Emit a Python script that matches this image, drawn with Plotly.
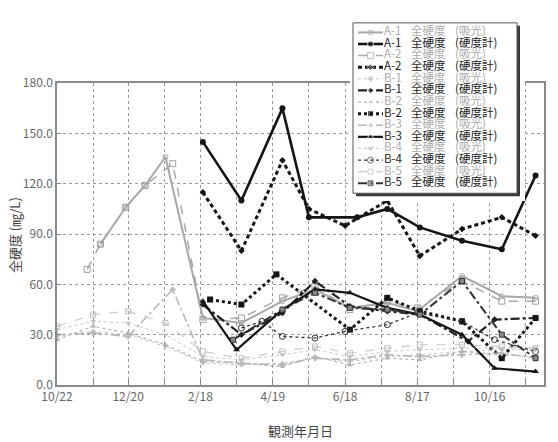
import plotly.graph_objects as go

# ---------------- data ----------------
A1_ABS_DATES = ["2010-11-27", "2010-12-18", "2011-01-03", "2011-01-20", "2011-02-20", "2011-03-24", "2011-04-27",
                "2011-05-24", "2011-06-22", "2011-07-23", "2011-08-17", "2011-09-23", "2011-10-26", "2011-11-23"]
A1_ABS = [84, 106, 119, 136, 40, 37, 50, 57, 46, 49, 44, 65, 53, 52]

A2_ABS_DATES = ["2010-11-16", "2010-11-27", "2010-12-18", "2011-01-03", "2011-01-26", "2011-02-20", "2011-03-24",
                "2011-04-27", "2011-05-24", "2011-06-22", "2011-07-23", "2011-08-17", "2011-09-23", "2011-10-26",
                "2011-11-23"]
A2_ABS = [69, 84, 106, 119, 132, 39, 40, 52, 59, 45, 50, 46, 62, 50, 50]

A1_MET_DATES = ["2011-02-20", "2011-03-24", "2011-04-27", "2011-05-19", "2011-06-28", "2011-07-23", "2011-08-19",
                "2011-09-23", "2011-10-26", "2011-11-23"]
A1_MET = [145, 110, 165, 100, 100, 105, 94, 86, 81, 125]

A2_MET_DATES = ["2011-02-20", "2011-03-24", "2011-04-27", "2011-05-19", "2011-06-18", "2011-07-23", "2011-08-19",
                "2011-09-23", "2011-10-26", "2011-11-23"]
A2_MET = [115, 80, 134, 105, 95, 110, 77, 93, 100, 89]

B_ABS_DATES = ["2010-10-22", "2010-11-21", "2010-12-20", "2011-01-20", "2011-02-20", "2011-03-24", "2011-04-27",
               "2011-05-24", "2011-06-22", "2011-07-23", "2011-08-19", "2011-09-23", "2011-10-26", "2011-11-23"]
B3_ABS_DATES = ["2010-10-22", "2010-11-21", "2010-12-20", "2011-01-26", "2011-02-20", "2011-03-24", "2011-04-27",
                "2011-05-24", "2011-06-22", "2011-07-23", "2011-08-19", "2011-09-23", "2011-10-26", "2011-11-23"]
B1_ABS = [29, 32, 30, 23, 13, 12, 13, 16, 14, 17, 18, 20, 21, 21]
B2_ABS = [27, 35, 31, 24, 14, 13, 11, 17, 12, 16, 15, 20, 18, 17]
B3_ABS = [30, 31, 29, 57, 15, 13, 12, 16, 15, 18, 17, 18, 19, 16]
B4_ABS = [33, 38, 37, 30, 17, 15, 18, 21, 17, 20, 21, 22, 22, 22]
B5_ABS = [35, 42, 44, 37, 20, 16, 20, 23, 19, 22, 24, 24, 23, 22]

B1_MET_DATES = ["2011-02-20", "2011-03-24", "2011-04-27", "2011-05-24", "2011-06-22", "2011-07-23", "2011-08-19",
                "2011-09-28", "2011-10-20", "2011-11-23"]
B1_MET = [48, 30, 43, 62, 47, 44, 42, 26, 39, 40]

B2_MET_DATES = ["2011-02-26", "2011-03-24", "2011-04-22", "2011-06-22", "2011-07-23", "2011-08-19", "2011-09-23",
                "2011-10-26", "2011-11-23"]
B2_MET = [51, 48, 66, 33, 52, 44, 38, 16, 40]

B3_MET_DATES = ["2011-02-20", "2011-03-20", "2011-04-27", "2011-05-24", "2011-06-22", "2011-07-23", "2011-08-19",
                "2011-09-23", "2011-10-20", "2011-11-23"]
B3_MET = [50, 21, 45, 57, 55, 46, 42, 30, 10, 8]

B4_MET_DATES = ["2011-03-24", "2011-04-10", "2011-04-27", "2011-05-24", "2011-06-18", "2011-07-23", "2011-08-17",
                "2011-09-23", "2011-10-20", "2011-11-23"]
B4_MET = [34, 38, 29, 28, 32, 36, 43, 38, 27, 20]

B5_MET_DATES = ["2011-03-17", "2011-04-27", "2011-05-24", "2011-06-22", "2011-07-23", "2011-08-19", "2011-09-23",
                "2011-10-26", "2011-11-23"]
B5_MET = [27, 45, 55, 46, 45, 42, 62, 30, 16]

SITE_IDS = ["A-1", "A-1", "A-2", "A-2", "B-1", "B-1", "B-2", "B-2", "B-3", "B-3", "B-4", "B-4", "B-5", "B-5"]
KINDS = ["(吸光)", "(硬度計)"] * 7

X_TICK_DATES = ["2010-10-22", "2010-11-21", "2010-12-20", "2011-01-19", "2011-02-18", "2011-03-20", "2011-04-19",
                "2011-05-19", "2011-06-18", "2011-07-18", "2011-08-17", "2011-09-16", "2011-10-16", "2011-11-15",
                "2011-11-30"]
X_TICK_TEXT = ["10/22", "", "12/20", "", "2/18", "", "4/19", "", "6/18", "", "8/17", "", "10/16", "", "11/30"]

# ---------------- styles ----------------
SERIES = [
    (A1_ABS_DATES, A1_ABS, dict(color="#a8a8a8", width=2, dash="solid"), dict(symbol="circle-open", size=5, color="#a8a8a8")),
    (A1_MET_DATES, A1_MET, dict(color="#151515", width=2.6, dash="solid"), dict(symbol="circle", size=6, color="#151515")),
    (A2_ABS_DATES, A2_ABS, dict(color="#a8a8a8", width=1.5, dash="dash"), dict(symbol="square-open", size=6, color="#a0a0a0")),
    (A2_MET_DATES, A2_MET, dict(color="#151515", width=3, dash="4px,3px"), dict(symbol="diamond", size=5, color="#151515")),
    (B_ABS_DATES, B1_ABS, dict(color="#c4c4c4", width=1, dash="dot"), dict(symbol="cross", size=4, color="#c0c0c0")),
    (B1_MET_DATES, B1_MET, dict(color="#222222", width=2.2, dash="dashdot"), dict(symbol="diamond", size=5, color="#222222")),
    (B_ABS_DATES, B2_ABS, dict(color="#b0b0b0", width=1.2, dash="dot"), dict(symbol="triangle-up", size=5, color="#b0b0b0")),
    (B2_MET_DATES, B2_MET, dict(color="#151515", width=3, dash="dot"), dict(symbol="square", size=6, color="#151515")),
    (B3_ABS_DATES, B3_ABS, dict(color="#b8b8b8", width=1.6, dash="dashdot"), dict(symbol="cross", size=5, color="#b8b8b8")),
    (B3_MET_DATES, B3_MET, dict(color="#151515", width=2.2, dash="solid"), dict(symbol="triangle-up", size=6, color="#151515")),
    (B_ABS_DATES, B4_ABS, dict(color="#c8c8c8", width=1, dash="dot"), dict(symbol="triangle-down", size=5, color="#c0c0c0")),
    (B4_MET_DATES, B4_MET, dict(color="#333333", width=1.3, dash="dot"), dict(symbol="circle-open", size=6, color="#333333")),
    (B_ABS_DATES, B5_ABS, dict(color="#cacaca", width=1.2, dash="dash"), dict(symbol="square-open", size=5, color="#bdbdbd")),
    (B5_MET_DATES, B5_MET, dict(color="#333333", width=2, dash="dashdot"), dict(symbol="square", size=5, color="#8a8a8a",
                                                                                line=dict(color="#333333", width=1))),
]

W, H = 558, 442
ML, MR, MT, MB = 57, 14, 8, 57
PW, PH = W - ML - MR, H - MT - MB


def px_x(p):
    return (p - ML) / PW


def px_y(p):
    return (H - MB - p) / PH


FONT = "Noto Sans CJK JP"

fig = go.Figure()

for dates, vals, line, marker in SERIES:
    fig.add_trace(go.Scatter(x=dates, y=vals, mode="lines+markers", line=line, marker=marker,
                             showlegend=False, hoverinfo="skip", xaxis="x", yaxis="y"))

# ---------------- custom legend (inset axes in pixel units) ----------------
LX0, LX1, LY0, LY1 = 350, 525, MT, 196
BOX = (353, 517, 13, 188)
SH = 3
ROW0, ROWSTEP = 22.8, 11.92
rows = [ROW0 + ROWSTEP * i for i in range(14)]

fig.add_trace(go.Scatter(x=[BOX[0] + SH, BOX[1] + SH, BOX[1] + SH, BOX[0] + SH, BOX[0] + SH],
                         y=[BOX[2] + SH, BOX[2] + SH, BOX[3] + SH, BOX[3] + SH, BOX[2] + SH],
                         fill="toself", fillcolor="#3a3a3a", line=dict(width=0), mode="lines",
                         showlegend=False, hoverinfo="skip", xaxis="x2", yaxis="y2"))
fig.add_trace(go.Scatter(x=[BOX[0], BOX[1], BOX[1], BOX[0], BOX[0]],
                         y=[BOX[2], BOX[2], BOX[3], BOX[3], BOX[2]],
                         fill="toself", fillcolor="white", line=dict(width=1, color="#555555"), mode="lines",
                         showlegend=False, hoverinfo="skip", xaxis="x2", yaxis="y2"))

for (dates, vals, line, marker), ry in zip(SERIES, rows):
    m = dict(marker)
    m["size"] = [0, marker["size"], 0]
    fig.add_trace(go.Scatter(x=[358, 370.5, 383], y=[ry, ry, ry], mode="lines+markers",
                             line=line, marker=m, showlegend=False, hoverinfo="skip",
                             xaxis="x2", yaxis="y2"))

txt_colors = ["#ababab" if k == "(吸光)" else "#1a1a1a" for k in KINDS]
for xpos, texts in [(384, SITE_IDS), (411, ["全硬度"] * 14), (455, KINDS)]:
    fig.add_trace(go.Scatter(x=[xpos] * 14, y=rows, mode="text", text=texts, textposition="middle right",
                             textfont=dict(family=FONT, size=11.5, color=txt_colors),
                             showlegend=False, hoverinfo="skip", xaxis="x2", yaxis="y2"))

fig.update_layout(
    width=W, height=H,
    margin=dict(l=ML, r=MR, t=MT, b=MB),
    paper_bgcolor="white", plot_bgcolor="white",
    font=dict(family=FONT, color="#555555"),
    showlegend=False,
    xaxis=dict(
        type="date", range=["2010-10-22", "2011-11-30"], domain=[0, 1],
        tickmode="array", tickvals=X_TICK_DATES, ticktext=X_TICK_TEXT,
        ticks="inside", ticklen=5, tickcolor="#888888",
        showgrid=True, gridcolor="#999999", griddash="dot", gridwidth=1,
        showline=True, mirror=True, linecolor="#8a8a8a", linewidth=1.5,
        tickfont=dict(family=FONT, size=12, color="#666666"),
        zeroline=False,
    ),
    yaxis=dict(
        range=[0, 180], domain=[0, px_y(75)],
        tickmode="array", tickvals=[0, 30, 60, 90, 120, 150, 180], tickformat=".1f",
        ticks="inside", ticklen=4, tickcolor="#888888",
        showgrid=True, gridcolor="#999999", griddash="dot", gridwidth=1,
        showline=True, mirror=True, linecolor="#8a8a8a", linewidth=1.5,
        tickfont=dict(family=FONT, size=12, color="#666666"),
        zeroline=False,
    ),
    xaxis2=dict(domain=[px_x(LX0), px_x(LX1)], range=[LX0, LX1], visible=False, fixedrange=True),
    yaxis2=dict(domain=[max(0.0, px_y(LY1)), min(1.0, px_y(LY0))], range=[LY1, LY0], visible=False, fixedrange=True),
    annotations=[
        dict(text="観測年月日", xref="paper", yref="paper", x=px_x(300), y=px_y(432),
             xanchor="center", yanchor="middle", showarrow=False,
             font=dict(family=FONT, size=13, color="#444444")),
        dict(text="全硬度 (㎎/L)", xref="paper", yref="paper", x=px_x(14), y=px_y(231),
             xanchor="center", yanchor="middle", showarrow=False, textangle=-90,
             font=dict(family=FONT, size=13, color="#444444")),
    ],
)

fig.write_html("out.html")
